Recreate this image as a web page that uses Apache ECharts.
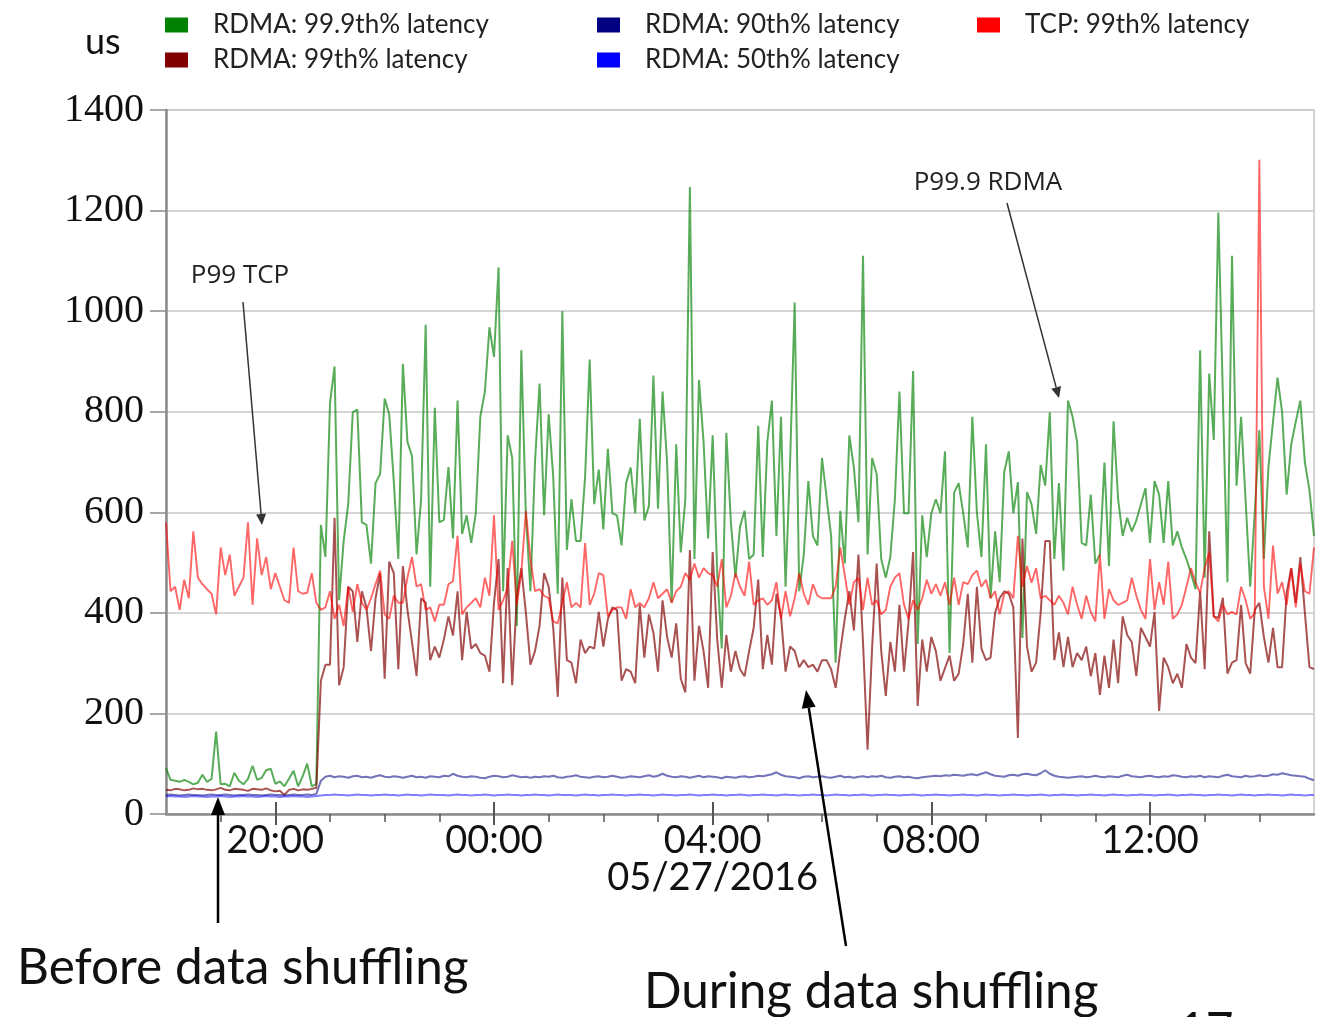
<!DOCTYPE html>
<html><head><meta charset="utf-8">
<style>html,body{margin:0;padding:0;background:#fff;}#c{width:1322px;height:1017px;}</style>
<script src="https://cdn.jsdelivr.net/npm/echarts@6.0.0/dist/echarts.min.js"></script>
</head><body><div id="c"></div>
<script>
// time axis: minutes since 05/26 18:00, one sample every 5 minutes
const startMinute = 0;
const stepMinutes = 5;
const xMin = 0, xMax = 1260;
const hourTicks = [60,120,180,240,300,360,420,480,540,600,660,720,780,840,900,960,1020,1080,1140,1200];
const majorTicks = [120,360,600,840,1080];
const majorLabels = ['20:00','00:00','04:00','08:00','12:00'];
const dateTick = 600, dateText = '05/27/2016';
const yMin = 0, yMax = 1400, yStep = 200;

const seriesNames = ['RDMA: 99.9th% latency','RDMA: 99th% latency','RDMA: 90th% latency','RDMA: 50th% latency','TCP: 99th% latency'];

const rdmaP999 = [
91,68,66,64,68,64,59,62,78,64, 70,164,59,60,55,82,66,59,70,96, 68,72,87,90,60,65,55,70,86,55, 75,100,55,60,
575,511,817,890,425,543,616,799,804,580, 575,498,658,676,826,795,662,507,895,740, 712,516,626,973,452,808,580,585,690,548,
822,557,594,539,598,790,840,968,909,1087, 443,753,708,374,922,594,443,700,856,594, 795,671,438,1000,525,626,543,543,671,904, 616,685,
566,726,598,594,534,658,689,598, 786,584,612,872,607,840,699,420,735,520, 626,1247,507,863,740,548,753,480,329,758, 580,470,571,
603,507,516,772,511,740,822, 553,790,452,700,1017,443,516,662,553,534, 708,630,553,301,603,498,753,689,580,1110, 516,708,676,507,470,
511,626,840,598,598, 881,338,594,511,598,626,598,721,320,639, 658,598,530,790,600,511,735,429,562,461, 680,721,598,660,350,640,616,
557,694,653, 799,507,658,484,822,790,740,539,534,635, 498,516,699,493,781,626,553,589,562,584, 616,648,539,662,635,539,662,534,562,
530,507,479,447,922,470,876,744,1196,830, 461,1110,653,790,621,452,600,763,507,690, 780,868,799,635,735,780,822,699,644,553
];
const rdmaP99 = [
48,47,50,49,47,48,51,49,50,48, 47,49,52,48,47,50,49,48,46,50, 49,48,51,47,45,46,38,48,50,47, 49,48,50,52,
265,297,297,589,256,292,452,443,342,443, 411,324,429,479,269,502,479,288,493,406, 342,274,429,420,306,333,311,347,393,355,
443,306,402,329,338,320,315,283,420,507, 260,489,256,430,489,400,297,324,374,479, 452,370,233,470,306,301,260,347,320,333, 329,402,
333,388,411,406,265,288,283,260, 416,311,397,360,283,425,352,311,379,269, 242,525,265,374,324,251,521,347,251,356, 283,324,288,
274,324,370,466,288,356,297, 438,393,283,333,324,292,306,292,297,283, 306,306,288,251,324,388,443,365,516,342, 128,330,498,324,235,
342,283,416,283,383, 521,215,347,283,352,324,265,290,315,265, 279,338,438,301,452,329,306,311,400,429, 443,438,411,151,548,333,283,
301,400,543, 543,306,361,292,352,292,320,306,333,274, 320,237,315,251,347,260,393,356,342,274, 370,352,333,402,205,311,292,260,279,
251,338,311,300,443,288,562,393,390,430, 279,301,306,416,300,279,406,420,352,301, 370,292,292,440,489,420,511,400,292,288
];
const rdmaP90 = [
38,39,38,37,38,39,38,38,37,38, 39,38,38,39,38,37,38,38,39,38, 38,37,38,39,38,38,37,38,39,38, 38,39,38,40,
66,74,76,73,75,74,72,75,76,73, 74,72,75,77,74,73,75,74,72,74, 76,73,74,72,75,74,73,76,75,80,
76,74,73,75,74,72,71,74,76,75, 73,74,77,75,73,74,72,74,73,75, 74,76,73,72,74,75,77,74,73,72,
74,75,73,74,76,74,72,73,75,74, 73,75,77,74,76,80,76,74,73,75, 74,72,74,76,73,75,74,73,71,74,
73,72,74,75,73,74,76,75,77,79, 83,78,75,74,73,71,74,75,73,74, 75,73,72,74,76,73,74,72,74,75,
73,75,74,76,73,72,74,75,73,74, 72,71,73,74,75,76,75,77,76,78, 77,76,78,79,77,80,83,79,76,75,
74,77,78,76,79,80,78,77,81,87, 80,76,74,73,72,73,74,75,73,74, 76,74,73,75,74,73,76,78,75,74,
73,75,76,74,73,75,74,77,76,74, 73,75,74,76,73,75,74,73,76,78, 75,74,73,76,74,75,77,75,76,79,
78,81,79,77,76,75,74,70,67
];
const rdmaP50 = [
35,36,35,35,34,35,36,35,35,34, 35,35,36,35,34,35,35,36,35,35, 34,35,36,35,35,34,35,35,36,35, 35,34,35,36,
37,38,38,39,38,38,37,38,39,38, 38,37,38,38,39,38,38,37,38,39, 38,38,37,38,39,38,38,38,37,38,
39,38,38,37,38,38,39,38,37,38, 38,39,38,38,37,38,38,39,38,38, 37,38,39,38,38,38,37,38,39,38,
38,37,38,38,39,38,38,37,38,38, 39,38,38,37,38,39,38,38,37,38, 38,39,38,37,38,38,39,38,38,37,
38,38,39,38,37,38,38,39,38,38, 37,38,39,38,38,37,38,38,39,38, 38,37,38,39,38,38,37,38,38,39,
38,37,38,38,39,38,38,37,38,38, 39,38,37,38,38,39,38,38,37,38, 38,39,38,38,37,38,39,38,38,37,
38,38,39,38,38,37,38,38,39,38, 37,38,38,39,38,38,37,38,38,39, 38,38,37,38,39,38,38,37,38,38,
39,38,38,37,38,38,39,38,37,38, 38,39,38,38,37,38,38,39,38,38, 37,38,39,38,38,37,38,38,39,38,
38,37,38,39,38,38,37,38,38
];
const tcpP99 = [
580,443,452,406,466,429,562,470,457,447, 438,397,530,475,516,434,452,470,580,416, 548,475,511,447,479,452,425,420,530,443, 438,440,479,420,
406,411,443,388,416,374,452,402,457,420, 406,429,457,484,397,388,434,420,420,470, 511,452,457,406,411,383,416,416,457,463,
553,397,411,420,429,411,470,434,594,406, 425,450,543,416,480,603,507,443,447,434, 429,383,379,420,461,411,420,411,539,416, 438,479,
475,393,406,411,411,388,447,411, 420,411,429,461,429,438,447,420,443,452, 479,466,498,470,489,479,475,452,507,411, 434,479,452,
434,502,416,425,429,416,425, 461,388,443,393,429,479,438,416,457,434, 429,429,429,452,530,475,416,461,470,406, 470,416,425,397,406,
452,470,479,416,388, 425,406,429,466,438,457,434,461,416,470, 416,461,457,475,484,452,466,429,443,397, 438,443,429,553,452,493,460,
489,429,434, 425,416,434,420,397,452,416,388,434,402, 383,516,388,447,425,416,420,425,470,434, 406,388,507,406,461,416,502,388,397,
416,452,489,460,440,489,520,393,383,416, 397,402,397,452,425,388,400,1301,452,388, 534,438,461,416,489,411,498,443,438,530
];

function pairs(arr){ return arr.map((v,i)=>[startMinute + i*stepMinutes, v]); }

const chart = echarts.init(document.getElementById('c'), null, {renderer:'canvas'});

function mkSeries(name, data, color, opacity, width, z){
  return {name, type:'line', data:pairs(data), showSymbol:false, symbol:'none', z,
    itemStyle:{color}, lineStyle:{color, opacity, width}, emphasis:{disabled:true}};
}

const legendText = {fontFamily:'Lato', fontSize:26, color:'#222', lineHeight:30, padding:[0,0,0,20]};
function mkLegend(data, left){
  return {data, left, top:5, orient:'vertical', icon:'rect', itemWidth:23, itemHeight:15, itemGap:5,
    itemStyle:{opacity:1}, textStyle:legendText, selectedMode:false};
}

function arrow(x1,y1,x2,y2,w,color,hl,hw){
  const dx=x2-x1, dy=y2-y1, L=Math.sqrt(dx*dx+dy*dy), ux=dx/L, uy=dy/L;
  const bx=x2-ux*hl, by=y2-uy*hl;
  return [
    {type:'line', shape:{x1,y1,x2:bx,y2:by}, style:{stroke:color,lineWidth:w}, z:100},
    {type:'polygon', shape:{points:[[x2,y2],[bx-uy*hw,by+ux*hw],[bx+uy*hw,by-ux*hw]]}, style:{fill:color}, z:100}
  ];
}
function txt(text,x,y,size,align,font,color){
  return {type:'text', x, y, z:100, style:{text, fontFamily:font||'Lato', fontSize:size, fill:color||'#111', align:align||'left', verticalAlign:'middle'}};
}

const graphics = [].concat(
  [txt('us',85,42,36,'left')],
  [txt('P99 TCP',240,276,26,'center','Open Sans','#222')],
  arrow(243,302,262,525,1.5,'#333',11,5),
  [txt('P99.9 RDMA',988,183,26,'center','Open Sans','#222')],
  arrow(1007,203,1059,398,1.5,'#333',11,5),
  arrow(218,923,218,797,2.5,'#000',18,7),
  [txt('Before data shuffling',17,968,49.5,'left')],
  arrow(846,946,806,690,2.5,'#000',18,7),
  [txt('During data shuffling',644,992,49.5,'left')],
  [txt('17',1178,1032,48,'left')]
);

chart.setOption({
  animation:false,
  backgroundColor:'#fff',
  grid:{left:166,right:8,top:110,bottom:203,show:true,borderColor:'#c8c8c8',borderWidth:1.5,containLabel:false},
  legend:[
    mkLegend([seriesNames[0],seriesNames[1]],160),
    mkLegend([seriesNames[2],seriesNames[3]],592),
    mkLegend([seriesNames[4]],972)
  ],
  xAxis:[
    {type:'value',position:'bottom',min:xMin,max:xMax,
      axisLine:{show:true,onZero:false,lineStyle:{color:'#8a8a8a',width:2.5}},
      axisTick:{show:true,customValues:hourTicks,length:8,lineStyle:{color:'#555',width:1.5}},
      axisLabel:{customValues:majorTicks,fontFamily:'Lato',fontSize:38,color:'#111',margin:8,lineHeight:37,
        formatter:v=>{const i=majorTicks.indexOf(v); const s=i>=0?majorLabels[i]:''; return v===dateTick? s+'\n'+dateText : s;}},
      splitLine:{show:false}},
    {type:'value',position:'bottom',min:xMin,max:xMax,offset:-12,
      axisLine:{show:false,onZero:false},
      axisTick:{show:true,customValues:majorTicks,length:23,lineStyle:{color:'#555',width:2}},
      axisLabel:{show:false},splitLine:{show:false}}
  ],
  yAxis:{type:'value',min:yMin,max:yMax,interval:yStep,
    axisLine:{show:true,lineStyle:{color:'#8a8a8a',width:2.5}},
    axisTick:{show:true,length:16,lineStyle:{color:'#8a8a8a',width:1.5}},
    axisLabel:{fontFamily:'Liberation Serif',fontSize:40,color:'#111',margin:22,formatter:v=>String(v)},
    splitLine:{lineStyle:{color:'#c8c8c8',width:1.5}}},
  series:[
    mkSeries(seriesNames[0],rdmaP999,'#008000',0.65,2,2),
    mkSeries(seriesNames[1],rdmaP99,'#800000',0.68,2,3),
    mkSeries(seriesNames[4],tcpP99,'#ff0000',0.6,1.9,4),
    mkSeries(seriesNames[2],rdmaP90,'#000080',0.55,2,5),
    mkSeries(seriesNames[3],rdmaP50,'#0000ff',0.5,2,6)
  ],
  graphic:graphics
});
</script>
</body></html>
